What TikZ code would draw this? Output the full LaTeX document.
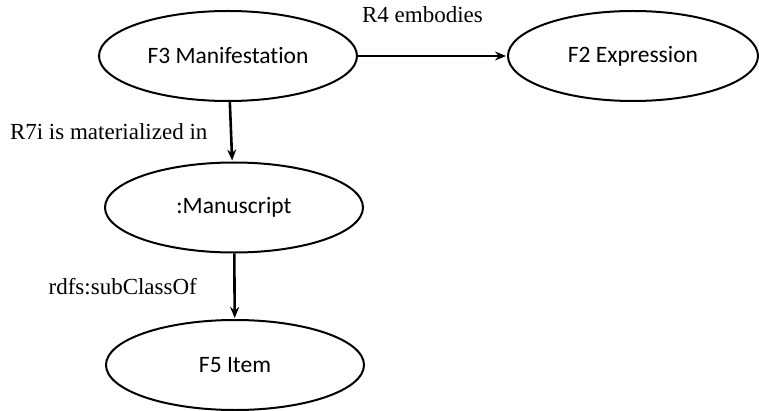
\documentclass[tikz,border=0pt]{standalone}
\usepackage{fontspec}
\setmainfont{Liberation Serif}
\newfontfamily\classfont[Ligatures=NoCommon]{Carlito}
\usetikzlibrary{positioning,arrows.meta,shapes.geometric}

\begin{document}
\begin{tikzpicture}[x=1pt,y=1pt,->,>={Stealth[length=11pt,width=9pt]},shorten >=1pt,line width=2.6pt,node distance=405pt,
    class node/.style={ellipse,draw,line width=2pt,minimum width=258pt,minimum height=90pt,inner sep=0pt,font=\classfont\fontsize{23.5}{27}\selectfont},
    rel label/.style={font=\fontsize{23}{27}\selectfont}]
\useasboundingbox (0,0) rectangle (759,410);

\node[class node]                        (f3)   at (228,354)   {F3 Manifestation};
\node[class node,minimum width=250pt]    (f2)   [right of = f3]  {F2 Expression};
\node[class node]                        (ms)   [below of = f3, node distance=151.5pt, xshift=6pt] {:Manuscript};
\node[class node]                        (f5)   [below of = ms, node distance=157.5pt, xshift=1pt] {F5 Item};

\path[]
(f3) edge  node[rel label,above,yshift=29pt,xshift=-10pt]{R4 embodies} (f2)
(f3) edge  node[rel label,left,xshift=-19pt]{R7i is materialized in} (ms)
(ms) edge  node[rel label,left,xshift=-33pt]{rdfs:subClassOf} (f5);
\end{tikzpicture}
\end{document}
